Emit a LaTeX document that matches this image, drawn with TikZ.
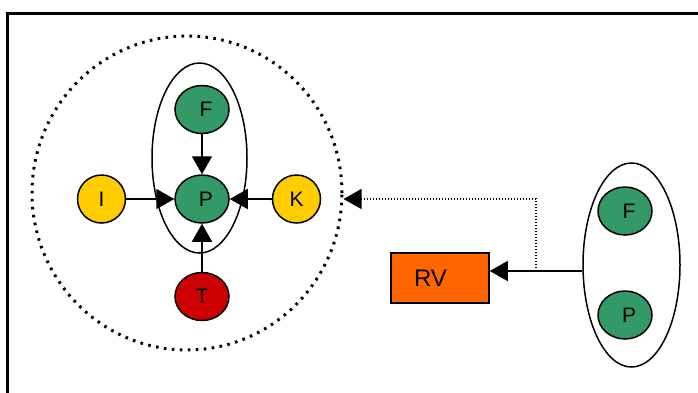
\documentclass[tikz,border=0pt]{standalone}
\usepackage{fontspec}
\setmainfont{Liberation Sans}
\usetikzlibrary{arrows.meta, positioning, shapes.geometric}

\definecolor{stgreen}{HTML}{339966}
\definecolor{obsyellow}{HTML}{FFCC00}
\definecolor{ctrlred}{HTML}{CC0000}
\definecolor{rvorange}{HTML}{FF6600}

\begin{document}
\begin{tikzpicture}[
    x=1pt, y=-1pt,
    every node/.style={font=\fontsize{21}{21}\selectfont},
    var/.style={draw, ellipse, line width=1.5pt, inner sep=0pt,
                minimum width=54pt, minimum height=48pt},
    state/.style={var, fill=stgreen},
    obs/.style={var, fill=obsyellow, minimum width=48pt},
    ctrl/.style={var, fill=ctrlred},
    group/.style={draw, ellipse, line width=1.5pt},
    ctxring/.style={draw, ellipse, line width=3pt,
                    dash pattern=on 2.6pt off 5.4pt},
    rvbox/.style={draw, fill=rvorange, line width=1.5pt, align=left,
                  text width=52pt, inner xsep=23pt, minimum height=50pt,
                  font=\fontsize{24}{24}\selectfont},
    arrow/.style={-{Triangle[length=18pt, width=20pt]}, line width=1.5pt},
    tie/.style={line width=1.2pt, dash pattern=on 1.4pt off 1.6pt}
]
    \clip (0,0) rectangle (698,392);
    \draw[line width=3.5pt] (7.5,13.5) rectangle (760,460);

    % context: P with its parents
    \node[ctxring, minimum width=310pt, minimum height=314pt] (ctx) at (187,193) {};
    \node[group, minimum width=95pt, minimum height=190pt] (pair) at (199.5,158) {};
    \node[state] (p) at (202,199) {\hspace{8pt}P};
    \node[state, above=40pt of p] (f) {\hspace{8pt}F};
    \node[ctrl, below=48pt of p] (t) {T};
    \node[obs, left=48pt of p] (i) {I};
    \node[obs, right=42pt of p] (k) {K};

    \draw[arrow] (f) -- (p);
    \draw[arrow] (i) -- (p);
    \draw[arrow] (k) -- (p);
    \draw[arrow] (t) -- (p);

    % random variable fed by (F,P)
    \node[group, minimum width=97pt, minimum height=204pt] (fp) at (631.5,265) {};
    \node[state] (f2) at (625,211) {\hspace{8pt}F};
    \node[state] (p2) at (625,315) {\hspace{8pt}P};
    \node[rvbox] (rv) at (440,278) {RV};
    \coordinate (tap) at (536,271);

    \draw[arrow] (fp.west |- tap) -- (rv.east |- tap);
    \draw[arrow, tie] (tap) |- (ctx.east |- p);
\end{tikzpicture}
\end{document}
